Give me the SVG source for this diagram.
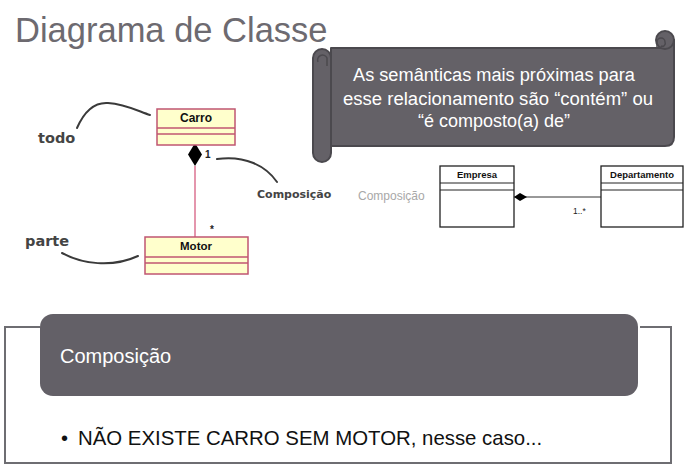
<svg xmlns="http://www.w3.org/2000/svg" width="691" height="469" viewBox="0 0 691 469">
<style>
.scroll{fill:#646167;stroke:#4b494e;stroke-width:2;stroke-linejoin:round}
.curl{fill:none;stroke:#4b494e;stroke-width:1.5}
.st{font-family:"Liberation Sans",Arial,sans-serif;font-size:18px;fill:#ffffff;text-anchor:middle}
.cls{fill:#ffffcc;stroke:#c05672;stroke-width:1.5}
.clsl{stroke:#c05672;stroke-width:1.5}
.cn{font-family:"Liberation Sans",Arial,sans-serif;font-weight:bold;fill:#111;text-anchor:middle}
.lbl{font-family:"DejaVu Sans",sans-serif;font-weight:bold;fill:#444}
.lead{fill:none;stroke:#3a3a3a;stroke-width:2;stroke-linecap:round}
.uml{fill:#ffffff;stroke:#222;stroke-width:1.3}
.umll{stroke:#222;stroke-width:1}
.un{font-family:"Liberation Sans",Arial,sans-serif;font-weight:bold;font-size:9.5px;fill:#111;text-anchor:middle}
</style>
<rect width="691" height="469" fill="#ffffff"/>
<text id="title" x="15" y="42" font-family="'Liberation Sans',Arial,sans-serif" font-size="34.5" fill="#6d6a70">Diagrama de Classe</text>

<g id="scroll">
<path class="scroll" d="M331,48 H665 L674,40 V137 Q674,146 665,146 H331 Z"/>
<circle class="scroll" cx="665" cy="40" r="9"/>
<path class="curl" d="M657,48 L657,42 A4,4 0 0 1 665,42 A3,3 0 0 1 661,46"/>
<rect class="scroll" x="313" y="49" width="18" height="113" rx="9"/>
<path class="curl" d="M318,62 A4.5,4.5 0 1 1 327,58 L327,66"/>
<text class="st" x="494" y="81" textLength="282" lengthAdjust="spacingAndGlyphs">As semânticas mais próximas para</text>
<text class="st" x="498" y="105" textLength="310" lengthAdjust="spacingAndGlyphs">esse relacionamento são “contém” ou</text>
<text class="st" x="494" y="127">“é composto(a) de”</text>
</g>

<g id="connectors">
<line x1="195" y1="166" x2="195" y2="237" stroke="#e496ad" stroke-width="2"/>
<polygon points="195,143 202,154.5 195,166 188,154.5" fill="#000"/>
<text x="205" y="158" font-family="'Liberation Sans',Arial,sans-serif" font-weight="bold" font-size="10" fill="#222">1</text>
<text x="210" y="233" font-family="'Liberation Sans',Arial,sans-serif" font-weight="bold" font-size="10" fill="#222">*</text>
<path class="lead" d="M77,128 C84,112 94,102 108,103 C125,104 138,111 150,115"/>
<path class="lead" d="M217,159 C245,155 266,166 277,182"/>
<path class="lead" d="M62,253 C82,264 112,268 138,256"/>
<line x1="514" y1="197" x2="601" y2="197" stroke="#333" stroke-width="1"/>
<polygon points="514,197 520,193 527,197 520,201" fill="#000"/>
<text x="573" y="214" font-family="'Liberation Sans',Arial,sans-serif" font-size="8.5" fill="#222">1..*</text>
</g>

<g id="carro">
<rect class="cls" x="157" y="109" width="78" height="36"/>
<line class="clsl" x1="157" y1="128" x2="235" y2="128"/>
<line class="clsl" x1="157" y1="134" x2="235" y2="134"/>
<text class="cn" x="196" y="122" font-size="12">Carro</text>
</g>
<g id="motor">
<rect class="cls" x="145" y="237" width="103" height="37"/>
<line class="clsl" x1="145" y1="257" x2="248" y2="257"/>
<line class="clsl" x1="145" y1="263" x2="248" y2="263"/>
<text class="cn" x="196" y="250" font-size="11.5">Motor</text>
</g>
<g id="labels">
<text class="lbl" x="38" y="143" font-size="14.5">todo</text>
<text class="lbl" x="25" y="246" font-size="14.5">parte</text>
<text class="lbl" x="257" y="198" font-size="11" fill="#222">Composição</text>
<text x="358" y="200" font-family="'Liberation Sans',Arial,sans-serif" font-size="12" fill="#a8a8a8">Composição</text>
</g>

<g id="empresa">
<rect class="uml" x="440" y="166" width="74" height="61"/>
<line class="umll" x1="440" y1="183" x2="514" y2="183"/>
<line class="umll" x1="440" y1="190" x2="514" y2="190"/>
<text class="un" x="477" y="178">Empresa</text>
</g>
<g id="departamento">
<rect class="uml" x="601" y="166" width="82" height="61"/>
<line class="umll" x1="601" y1="183" x2="683" y2="183"/>
<line class="umll" x1="601" y1="190" x2="683" y2="190"/>
<text class="un" x="642" y="178">Departamento</text>
</g>

<g id="composicao-box">
<path d="M40,327 H5 V463 H671 V327 H640" fill="none" stroke="#6e6d72" stroke-width="2"/>
<rect x="40" y="314" width="598" height="82" rx="13" fill="#636067"/>
<text x="60" y="363" font-family="'Liberation Sans',Arial,sans-serif" font-size="20" fill="#ffffff">Composição</text>
<text x="61" y="445" font-family="'Liberation Sans',Arial,sans-serif" font-size="20" fill="#111">•</text>
<text x="78" y="445" font-family="'Liberation Sans',Arial,sans-serif" font-size="20.4" fill="#111">NÃO EXISTE CARRO SEM MOTOR, nesse caso...</text>
</g>
</svg>
